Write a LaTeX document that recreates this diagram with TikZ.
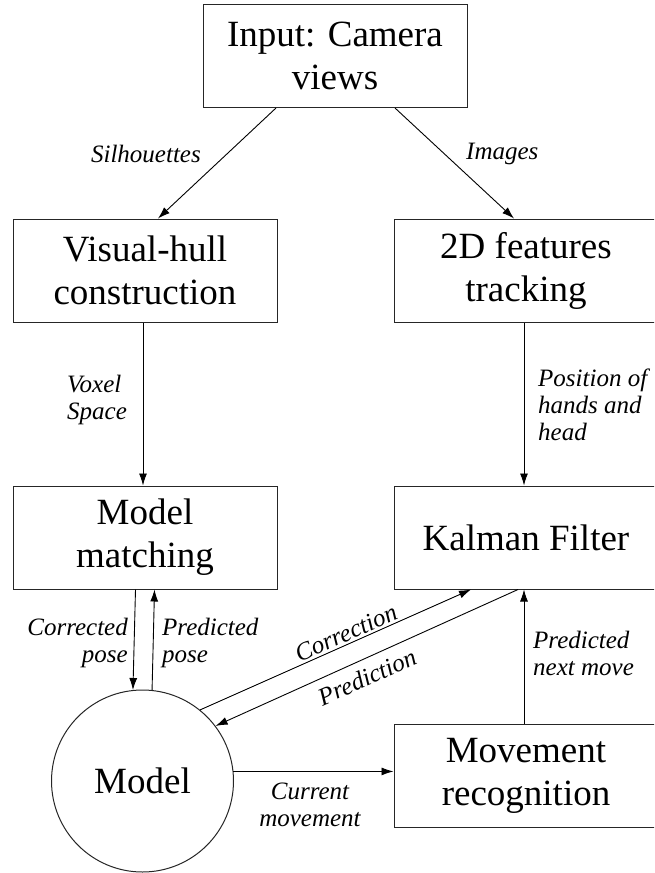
\documentclass[tikz,border=0pt]{standalone}
\usepackage{fontspec}
\setmainfont{Liberation Serif}
\usetikzlibrary{arrows.meta,calc}

\tikzset{
  box/.style={draw=black!85, line width=1pt, minimum width=264pt, minimum height=103pt,
    align=center, inner sep=0pt, font=\fontsize{37}{43}\selectfont},
  roundnode/.style={draw=black!85, line width=1pt, circle, minimum size=182pt,
    inner sep=0pt, font=\fontsize{37}{43}\selectfont},
  flow/.style={line width=0.9pt, -{Latex[length=12pt,width=8pt]}},
  lbl/.style={font=\fontsize{25}{27}\selectfont\itshape, inner sep=0pt},
}

\begin{document}
\begin{tikzpicture}[x=1pt, y=-1pt]
  \useasboundingbox (0,0) rectangle (654,873);
  \clip (0,0) rectangle (654,873);

  % boxes
  \node[box] (inp) at (335,56) {Input: Camera\\views};
  \node[box] (vh)  at (145,270.5) {Visual-hull\\construction};
  \node[box] (ft)  at (526,270.5) {2D features\\tracking};
  \node[box] (mm)  at (145,537.5) {Model\\matching};
  \node[box] (kf)  at (526,537.5) {Kalman Filter};
  \node[box] (mr)  at (526,775.5) {Movement\\recognition};
  \node[roundnode] (model) at (142.5,781) {Model};

  % connectors
  \draw[flow] ([xshift=-59pt]inp.south) -- ([xshift=13pt]vh.north);
  \draw[flow] ([xshift=60pt]inp.south) -- ([xshift=-12pt]ft.north);
  \draw[flow] ([xshift=-2pt]vh.south) -- ([xshift=-2pt]mm.north);
  \draw[flow] ([xshift=-2pt]ft.south) -- ([xshift=-2pt]kf.north);
  \draw[flow] ([xshift=-9.5pt]mm.south) -- (model.96);
  \draw[flow] (model.84) -- ([xshift=9.5pt]mm.south);
  \draw[flow] (model.51) -- ([xshift=-55pt]kf.south);
  \draw[flow] ([xshift=-8pt]kf.south) -- (model.37);
  \draw[flow] ([xshift=-2pt]mr.north) -- ([xshift=-2pt]kf.south);
  \draw[flow] (model.6) -- (model.6 -| mr.west);

  % connector labels
  \node[lbl, anchor=east] (lsil) at (201,154) {Silhouettes};
  \node[lbl, anchor=west] (limg) at (466,154) {Images};
  \node[lbl, anchor=west, align=left] (lvox) at (67,400) {Voxel\\Space};
  \node[lbl, anchor=west, align=left] (lpos) at (538,405) {Position of\\hands and\\head};
  \node[lbl, anchor=east, align=right] (lcor) at (128,643) {Corrected\\pose};
  \node[lbl, anchor=west, align=left] (lpre) at (162,643) {Predicted\\pose};
  \node[lbl, rotate=24] (lcorr) at (346,633) {Correction};
  \node[lbl, rotate=24] (lpred) at (367,677) {Prediction};
  \node[lbl, anchor=west, align=left] (lnext) at (533,653) {Predicted\\next move};
  \node[lbl, align=center] (lcur) at (310,805) {Current\\movement};
\end{tikzpicture}
\end{document}
